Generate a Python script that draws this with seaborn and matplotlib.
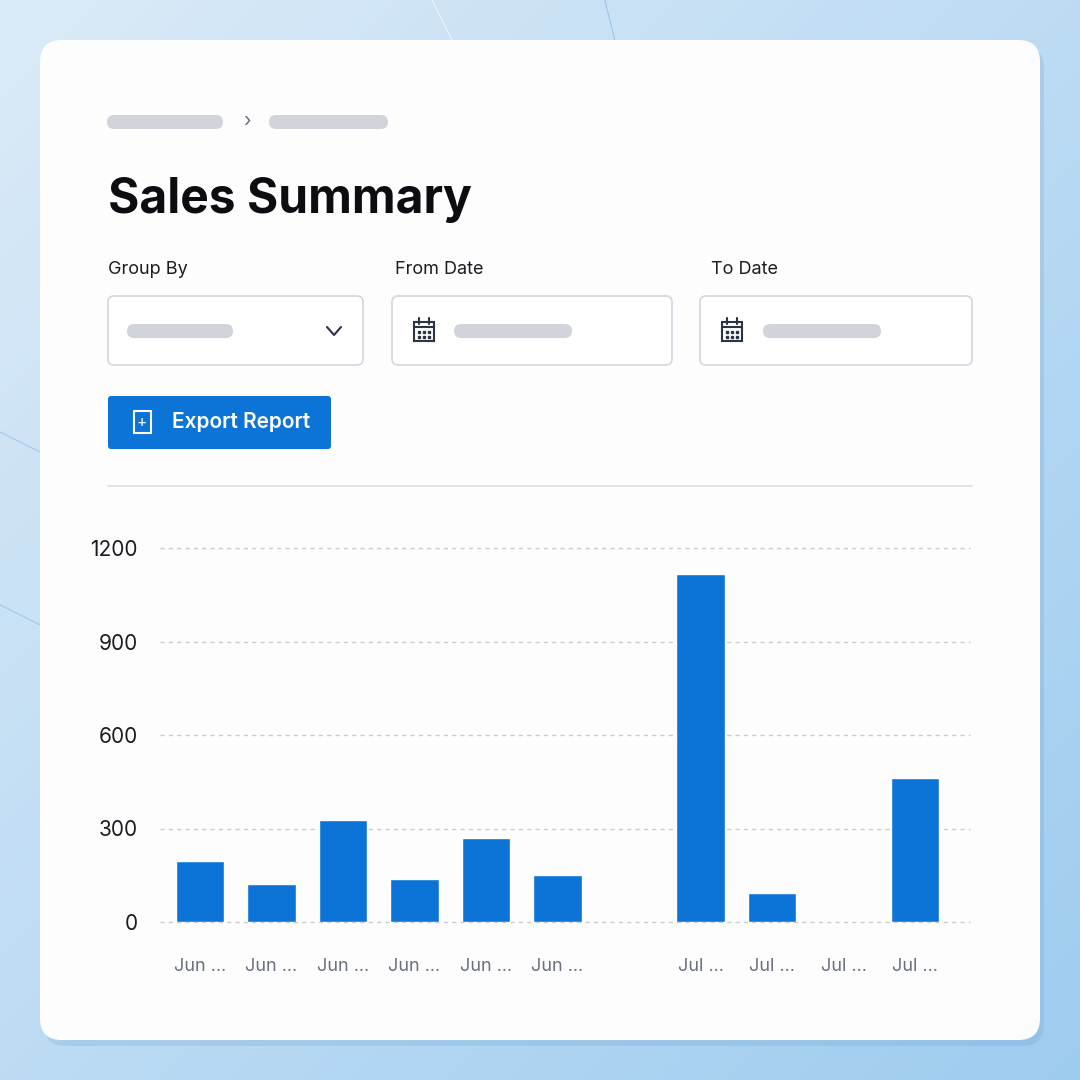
import numpy as np
import pandas as pd
import matplotlib
matplotlib.use("Agg")
import matplotlib.pyplot as plt
import seaborn as sns
from matplotlib.patches import FancyBboxPatch, Rectangle

# chart data
labels = ["Jun ...", "Jun ...", "Jun ...", "Jun ...", "Jun ...", "Jun ...", "",
          "Jul ...", "Jul ...", "Jul ...", "Jul ..."]
sales = [196, 122, 327, 138, 269, 151, 0, 1115, 93, 0, 462]
yticks = [0, 300, 600, 900, 1200]

sns.set_theme(style="white")
plt.rcParams['font.family'] = ['Inter', 'DejaVu Sans']

W = H = 1080
fig = plt.figure(figsize=(10.8, 10.8), dpi=100)

def fx(x):
    return x / W

def fy(y):
    return 1 - y / H

# gradient background
bg = fig.add_axes([0, 0, 1, 1])
bg.set_zorder(-10)
gx, gy = np.meshgrid(np.linspace(0, 1, 200), np.linspace(0, 1, 200))
t = np.clip(0.5 * gx + 0.5 * gy, 0, 1)
c1 = np.array([0.86, 0.92, 0.97])
c2 = np.array([0.62, 0.80, 0.94])
img = c1[None, None, :] * (1 - t[..., None]) + c2[None, None, :] * t[..., None]
bg.imshow(img, extent=[0, 1, 0, 1], aspect="auto", origin="upper")
bg.set_xlim(0, 1)
bg.set_ylim(0, 1)
bg.axis("off")
# faint decorative lines
th = np.linspace(0, 1, 100)
bg.plot(0.40 + 0.02 * th, 1 - 0.04 * th, color="white", lw=0.8, alpha=0.6)
bg.plot(0.56 + 0.01 * th, 1 - 0.04 * th, color="#7fb6e6", lw=0.8, alpha=0.6)
bg.plot(0.0 + 0.04 * th, 0.60 - 0.02 * th, color="#7fb6e6", lw=0.8, alpha=0.6)
bg.plot(0.0 + 0.04 * th, 0.44 - 0.02 * th, color="#7fb6e6", lw=0.8, alpha=0.6)

# card with shadow
shadow = FancyBboxPatch((fx(44), fy(1046)), fx(1000), 1000 / H,
                        boxstyle="round,pad=0,rounding_size=0.02",
                        transform=fig.transFigure, fc="#5a8fbf", ec="none", alpha=0.18)
fig.patches.append(shadow)
card = FancyBboxPatch((fx(40), fy(1040)), fx(1000), 1000 / H,
                      boxstyle="round,pad=0,rounding_size=0.02",
                      transform=fig.transFigure, fc="#fdfdfe", ec="none")
fig.patches.append(card)

def pill(x0, x1, yc, h=14, color="#d1d4da"):
    p = FancyBboxPatch((fx(x0), fy(yc + h / 2)), fx(x1 - x0), h / H,
                       boxstyle="round,pad=0,rounding_size=%f" % (h / 2 / H),
                       transform=fig.transFigure, fc=color, ec="none")
    fig.patches.append(p)

def box(x0, y0, x1, y1, fc="white", ec="#d4d6de", r=6, lw=1.2):
    p = FancyBboxPatch((fx(x0), fy(y1)), fx(x1 - x0), (y1 - y0) / H,
                       boxstyle="round,pad=0,rounding_size=%f" % (r / H),
                       transform=fig.transFigure, fc=fc, ec=ec, lw=lw)
    fig.patches.append(p)

def calendar(cx, cy):
    fig.patches.append(Rectangle((fx(cx - 10), fy(cy + 10)), fx(20), 19 / H,
                                 transform=fig.transFigure, fc="none", ec="#2b3345", lw=1.5))
    fig.lines.append(plt.Line2D([fx(cx - 10), fx(cx + 10)], [fy(cy - 4), fy(cy - 4)],
                                transform=fig.transFigure, color="#2b3345", lw=1.5))
    for dx in (-5, 5):
        fig.lines.append(plt.Line2D([fx(cx + dx), fx(cx + dx)], [fy(cy - 13), fy(cy - 7)],
                                    transform=fig.transFigure, color="#2b3345", lw=1.5))
    for dx in (-5, 0, 5):
        for dy in (1, 6):
            fig.lines.append(plt.Line2D([fx(cx + dx)], [fy(cy + dy)], marker="s", ms=1.5,
                                        transform=fig.transFigure, color="#2b3345"))

# breadcrumb
pill(107, 223, 122)
fig.text(fx(247), fy(122), "›", ha="center", va="center", fontsize=14, color="#6b7080")
pill(269, 388, 122)

fig.text(fx(108), fy(200), "Sales Summary", ha="left", va="center",
         fontsize=34.5, fontweight="bold", color="#0c0d10")

# filters
fig.text(fx(108), fy(270), "Group By", ha="left", va="center", fontsize=13, color="#1b1d22")
fig.text(fx(395), fy(270), "From Date", ha="left", va="center", fontsize=13, color="#1b1d22")
fig.text(fx(711), fy(270), "To Date", ha="left", va="center", fontsize=13, color="#1b1d22")
box(108, 296, 363, 365)
pill(127, 233, 331)
fig.lines.append(plt.Line2D([fx(327), fx(334), fx(341)], [fy(327), fy(335), fy(327)],
                            transform=fig.transFigure, color="#2b3345", lw=1.5))
box(392, 296, 672, 365)
calendar(424, 331)
pill(454, 572, 331)
box(700, 296, 972, 365)
calendar(732, 331)
pill(763, 881, 331)

# export button
box(108, 396, 331, 449, fc="#0b74d6", ec="none", r=3)
fig.patches.append(Rectangle((fx(134), fy(433)), fx(17), 22 / H, transform=fig.transFigure,
                             fc="none", ec="white", lw=1.5))
fig.text(fx(142), fy(422), "+", ha="center", va="center", fontsize=11, color="white")
fig.text(fx(172), fy(422), "Export Report", ha="left", va="center", fontsize=15,
         fontweight="semibold", color="white")

# divider
fig.lines.append(plt.Line2D([fx(108), fx(972)], [fy(486), fy(486)],
                            transform=fig.transFigure, color="#dcdde6", lw=1.2))

# bar chart
ax = fig.add_axes([fx(160), fy(922), fx(810), 374 / H])
ax.set_zorder(10)
ax.patch.set_alpha(0)
df = pd.DataFrame({"pos": range(len(sales)), "label": labels, "sales": sales})
sns.barplot(data=df, x="pos", y="sales", color="#0b74d6", saturation=1,
            width=0.68, ax=ax, zorder=3)
ax.set_xlim(-0.56, len(sales) - 1 + 0.77)
ax.set_ylim(0, 1200)
ax.set_yticks(yticks)
ax.set_yticklabels([str(v) for v in yticks], fontsize=15, color="#1b1d22")
ax.set_xticks(df["pos"])
ax.set_xticklabels(labels, fontsize=13, color="#6b7080")
ax.tick_params(axis="x", length=0, pad=26)
ax.tick_params(axis="y", length=0, pad=16)
for v in yticks:
    ax.axhline(v, color="#c9cbd8", lw=1, ls=(0, (3, 3)), zorder=1, clip_on=False)
for s in ax.spines.values():
    s.set_visible(False)
ax.set_xlabel("")
ax.set_ylabel("")

fig.savefig("out.png", dpi=100)
